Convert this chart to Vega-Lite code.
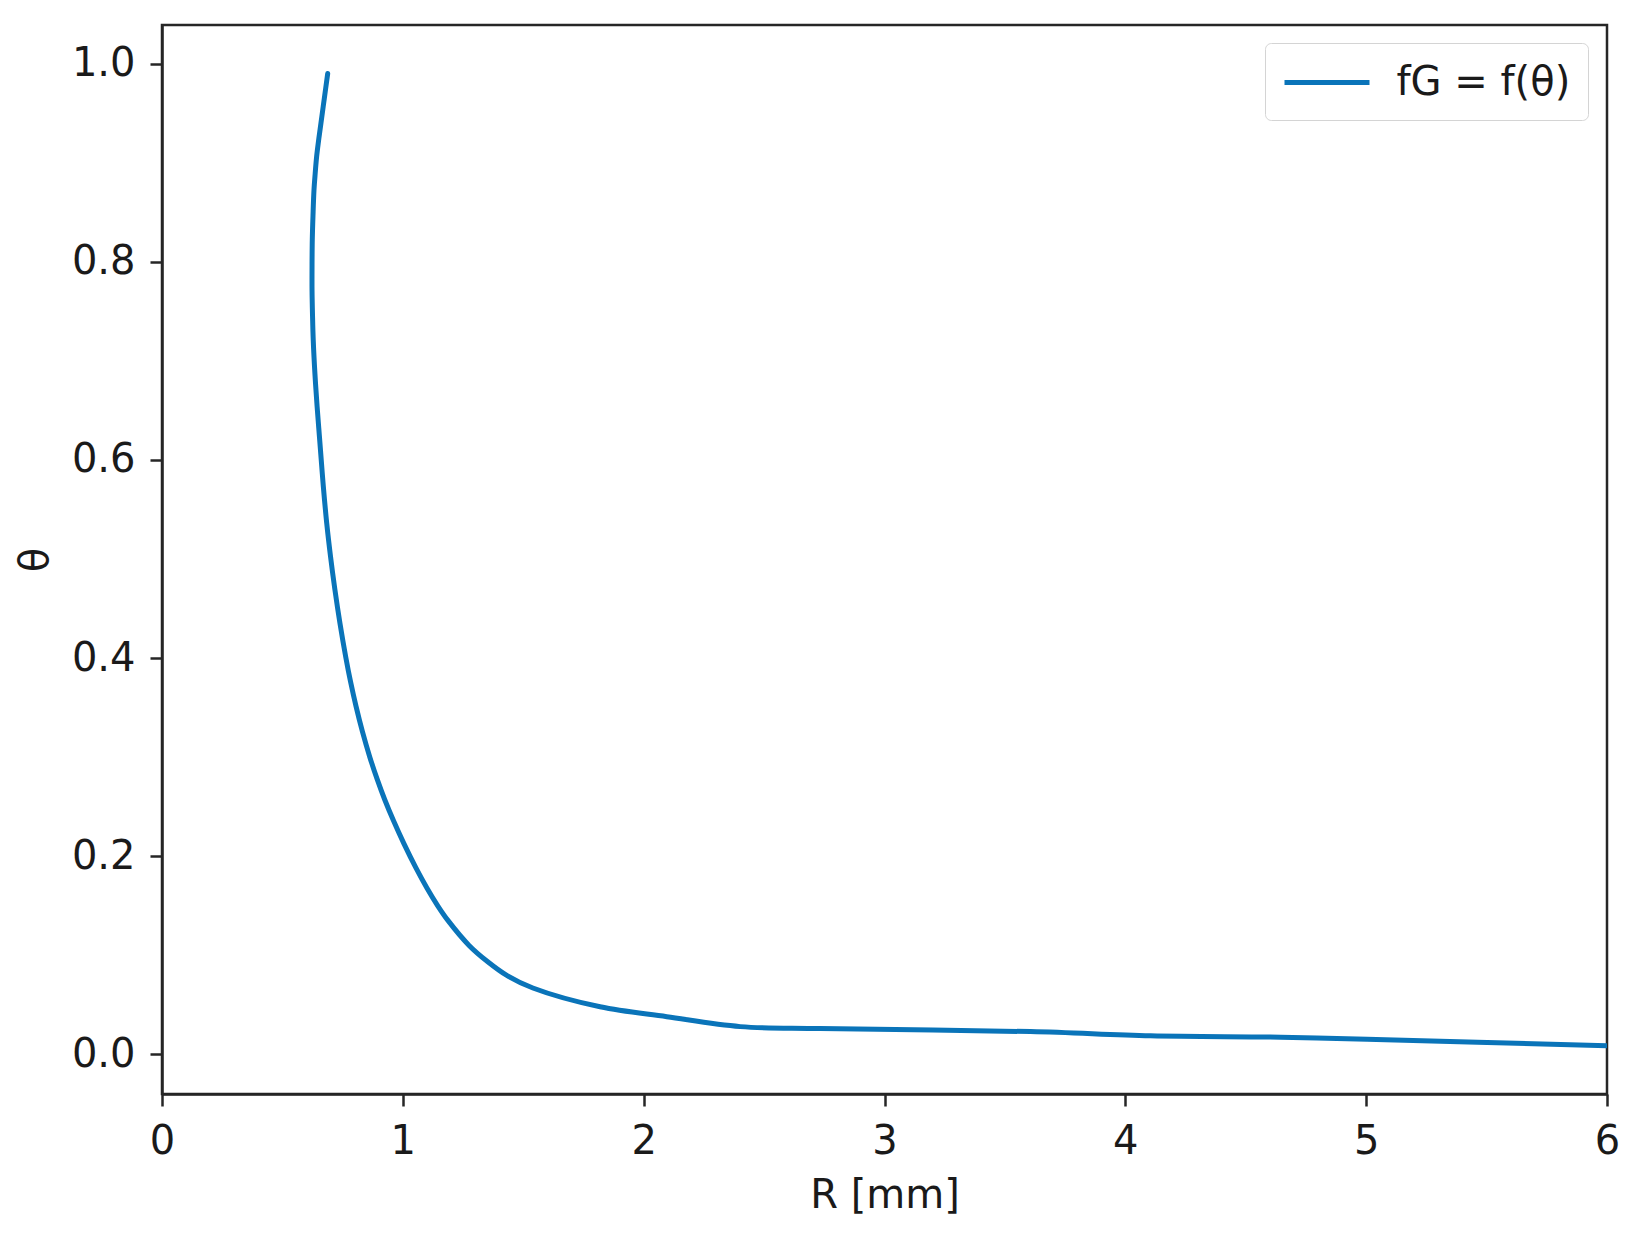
{
  "$schema": "https://vega.github.io/schema/vega-lite/v6.json",
  "width": 1445,
  "height": 1069,
  "autosize": {"type": "none"},
  "padding": {"left": 162, "top": 25, "right": 31, "bottom": 140},
  "background": "white",
  "data": {
    "values": [
      {"i": 0, "R": 0.688, "theta": 0.990, "series": "fG = f(θ)"},
      {"i": 1, "R": 0.674, "theta": 0.965, "series": "fG = f(θ)"},
      {"i": 2, "R": 0.660, "theta": 0.940, "series": "fG = f(θ)"},
      {"i": 3, "R": 0.650, "theta": 0.922, "series": "fG = f(θ)"},
      {"i": 4, "R": 0.642, "theta": 0.906, "series": "fG = f(θ)"},
      {"i": 5, "R": 0.636, "theta": 0.889, "series": "fG = f(θ)"},
      {"i": 6, "R": 0.631, "theta": 0.872, "series": "fG = f(θ)"},
      {"i": 7, "R": 0.627, "theta": 0.847, "series": "fG = f(θ)"},
      {"i": 8, "R": 0.624, "theta": 0.822, "series": "fG = f(θ)"},
      {"i": 9, "R": 0.623, "theta": 0.797, "series": "fG = f(θ)"},
      {"i": 10, "R": 0.623, "theta": 0.771, "series": "fG = f(θ)"},
      {"i": 11, "R": 0.625, "theta": 0.746, "series": "fG = f(θ)"},
      {"i": 12, "R": 0.628, "theta": 0.721, "series": "fG = f(θ)"},
      {"i": 13, "R": 0.635, "theta": 0.687, "series": "fG = f(θ)"},
      {"i": 14, "R": 0.644, "theta": 0.654, "series": "fG = f(θ)"},
      {"i": 15, "R": 0.651, "theta": 0.632, "series": "fG = f(θ)"},
      {"i": 16, "R": 0.658, "theta": 0.610, "series": "fG = f(θ)"},
      {"i": 17, "R": 0.670, "theta": 0.573, "series": "fG = f(θ)"},
      {"i": 18, "R": 0.684, "theta": 0.536, "series": "fG = f(θ)"},
      {"i": 19, "R": 0.700, "theta": 0.502, "series": "fG = f(θ)"},
      {"i": 20, "R": 0.718, "theta": 0.469, "series": "fG = f(θ)"},
      {"i": 21, "R": 0.739, "theta": 0.435, "series": "fG = f(θ)"},
      {"i": 22, "R": 0.763, "theta": 0.401, "series": "fG = f(θ)"},
      {"i": 23, "R": 0.783, "theta": 0.376, "series": "fG = f(θ)"},
      {"i": 24, "R": 0.806, "theta": 0.351, "series": "fG = f(θ)"},
      {"i": 25, "R": 0.832, "theta": 0.326, "series": "fG = f(θ)"},
      {"i": 26, "R": 0.863, "theta": 0.300, "series": "fG = f(θ)"},
      {"i": 27, "R": 0.893, "theta": 0.278, "series": "fG = f(θ)"},
      {"i": 28, "R": 0.925, "theta": 0.257, "series": "fG = f(θ)"},
      {"i": 29, "R": 0.961, "theta": 0.236, "series": "fG = f(θ)"},
      {"i": 30, "R": 1.004, "theta": 0.213, "series": "fG = f(θ)"},
      {"i": 31, "R": 1.055, "theta": 0.188, "series": "fG = f(θ)"},
      {"i": 32, "R": 1.100, "theta": 0.168, "series": "fG = f(θ)"},
      {"i": 33, "R": 1.145, "theta": 0.150, "series": "fG = f(θ)"},
      {"i": 34, "R": 1.188, "theta": 0.135, "series": "fG = f(θ)"},
      {"i": 35, "R": 1.275, "theta": 0.110, "series": "fG = f(θ)"},
      {"i": 36, "R": 1.350, "theta": 0.094, "series": "fG = f(θ)"},
      {"i": 37, "R": 1.430, "theta": 0.080, "series": "fG = f(θ)"},
      {"i": 38, "R": 1.540, "theta": 0.067, "series": "fG = f(θ)"},
      {"i": 39, "R": 1.819, "theta": 0.048, "series": "fG = f(θ)"},
      {"i": 40, "R": 2.096, "theta": 0.038, "series": "fG = f(θ)"},
      {"i": 41, "R": 2.401, "theta": 0.028, "series": "fG = f(θ)"},
      {"i": 42, "R": 2.733, "theta": 0.026, "series": "fG = f(θ)"},
      {"i": 43, "R": 3.606, "theta": 0.023, "series": "fG = f(θ)"},
      {"i": 44, "R": 4.105, "theta": 0.0187, "series": "fG = f(θ)"},
      {"i": 45, "R": 4.645, "theta": 0.0174, "series": "fG = f(θ)"},
      {"i": 46, "R": 5.004, "theta": 0.0153, "series": "fG = f(θ)"},
      {"i": 47, "R": 6.0, "theta": 0.0086, "series": "fG = f(θ)"}
    ]
  },
  "mark": {"type": "line", "strokeWidth": 5, "clip": true, "strokeCap": "round", "strokeJoin": "round", "interpolate": "catmull-rom"},
  "encoding": {
    "x": {
      "field": "R", "type": "quantitative", "title": "R [mm]",
      "scale": {"domain": [0, 6], "nice": false, "zero": false},
      "axis": {"values": [0, 1, 2, 3, 4, 5, 6], "format": "d", "labelFlush": false, "labelPadding": 15, "titlePadding": 14}
    },
    "y": {
      "field": "theta", "type": "quantitative", "title": "θ",
      "scale": {"domain": [-0.04, 1.039], "nice": false, "zero": false},
      "axis": {"values": [0, 0.2, 0.4, 0.6, 0.8, 1.0], "format": ".1f", "labelFlush": false, "labelPadding": 15, "titlePadding": 16}
    },
    "order": {"field": "i", "type": "quantitative"},
    "color": {
      "field": "series", "type": "nominal",
      "scale": {"range": ["#0a74b9"]},
      "legend": {
        "title": null, "orient": "none", "legendX": 1103, "legendY": 18,
        "symbolType": "M-2.125,0H2.125", "symbolSize": 1600, "symbolStrokeWidth": 5,
        "symbolOffset": 22.5, "symbolFillColor": "transparent",
        "labelFontSize": 40, "labelFont": "DejaVu Sans", "labelColor": "#1a1a1a", "labelLimit": 500,
        "labelOffset": 47, "padding": 17,
        "strokeColor": "#d4d4d4", "cornerRadius": 6, "fillColor": "white"
      }
    }
  },
  "config": {
    "view": {"stroke": "#262626", "strokeWidth": 2.5},
    "axis": {
      "grid": false,
      "domainColor": "#262626", "domainWidth": 2.5,
      "tickColor": "#262626", "tickWidth": 2.5, "tickSize": 12,
      "labelFont": "DejaVu Sans", "labelFontSize": 40, "labelColor": "#1a1a1a",
      "titleFont": "DejaVu Sans", "titleFontSize": 40, "titleFontWeight": "normal", "titleColor": "#1a1a1a"
    }
  }
}
